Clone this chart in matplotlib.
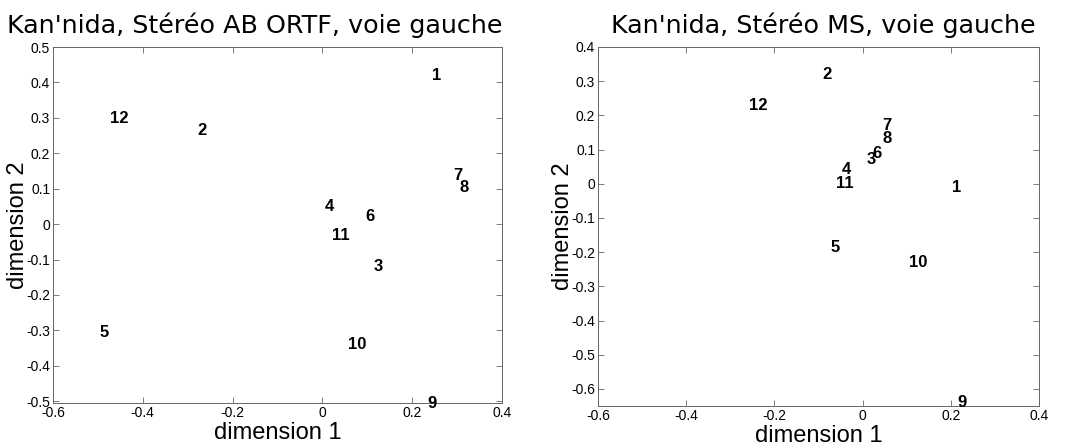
import matplotlib
matplotlib.use("Agg")
import matplotlib.pyplot as plt

labels = ["1", "2", "3", "4", "5", "6", "7", "8", "9", "10", "11", "12"]

# left panel: Stéréo AB ORTF
ab_x = [0.245, -0.279, 0.113, 0.006, -0.497, 0.0965, 0.291, 0.306, 0.233, 0.056, 0.022, -0.472]
ab_y = [0.419, 0.264, -0.120, 0.049, -0.307, 0.021, 0.136, 0.103, -0.505, -0.339, -0.031, 0.297]

# right panel: Stéréo MS
ms_x = [0.203, -0.0915, 0.008, -0.048, -0.073, 0.023, 0.045, 0.045, 0.214, 0.105, -0.061, -0.258]
ms_y = [-0.011, 0.320, 0.072, 0.043, -0.185, 0.089, 0.170, 0.131, -0.640, -0.229, 0.0, 0.229]

titles = ["Kan'nida, Stéréo AB ORTF, voie gauche", "Kan'nida, Stéréo MS, voie gauche"]

fig = plt.figure(figsize=(10.69, 4.46), dpi=100)
ax1 = fig.add_axes([53/1069, 1 - 403/446, (502-53)/1069, (403-47)/446])
ax2 = fig.add_axes([598/1069, 1 - 406/446, (1039-598)/1069, (406-47)/446])

panels = [
    (ax1, ab_x, ab_y, (-0.505, 0.5), [-0.5 + 0.1*i for i in range(11)], 0.45),
    (ax2, ms_x, ms_y, (-0.65, 0.4), [-0.6 + 0.1*i for i in range(11)], 0.512),
]

for (ax, xs, ys, ylim, yt, tx), title in zip(panels, titles):
    for x, y, lab in zip(xs, ys, labels):
        ax.text(x, y, lab, ha='left', va='center', fontsize=12,
                fontweight='bold', family='Liberation Sans')
    ax.set_xlim(-0.6, 0.4)
    ax.set_ylim(*ylim)
    ax.set_xticks([-0.6, -0.4, -0.2, 0, 0.2, 0.4])
    ax.set_xticklabels(['-0.6', '-0.4', '-0.2', '0', '0.2', '0.4'])
    ax.set_yticks([round(v, 1) for v in yt])
    ax.set_yticklabels(['0' if abs(v) < 1e-9 else '%g' % round(v, 1) for v in yt])
    ax.tick_params(direction='in', length=4, width=0.6, labelsize=10,
                   top=True, right=True, color='#666666', pad=2)
    for lbl in ax.get_xticklabels() + ax.get_yticklabels():
        lbl.set_family('Liberation Sans')
    for sp in ax.spines.values():
        sp.set_linewidth(0.7)
        sp.set_color('#666666')
    ax.set_xlabel('dimension 1', fontsize=17, family='Liberation Sans', labelpad=1.5)
    ax.set_ylabel('dimension 2', fontsize=17, family='Liberation Sans', labelpad=-2)
    ax.set_title(title, fontsize=18.3, family='DejaVu Sans', pad=10, x=tx)

fig.savefig('out.png', dpi=100)
